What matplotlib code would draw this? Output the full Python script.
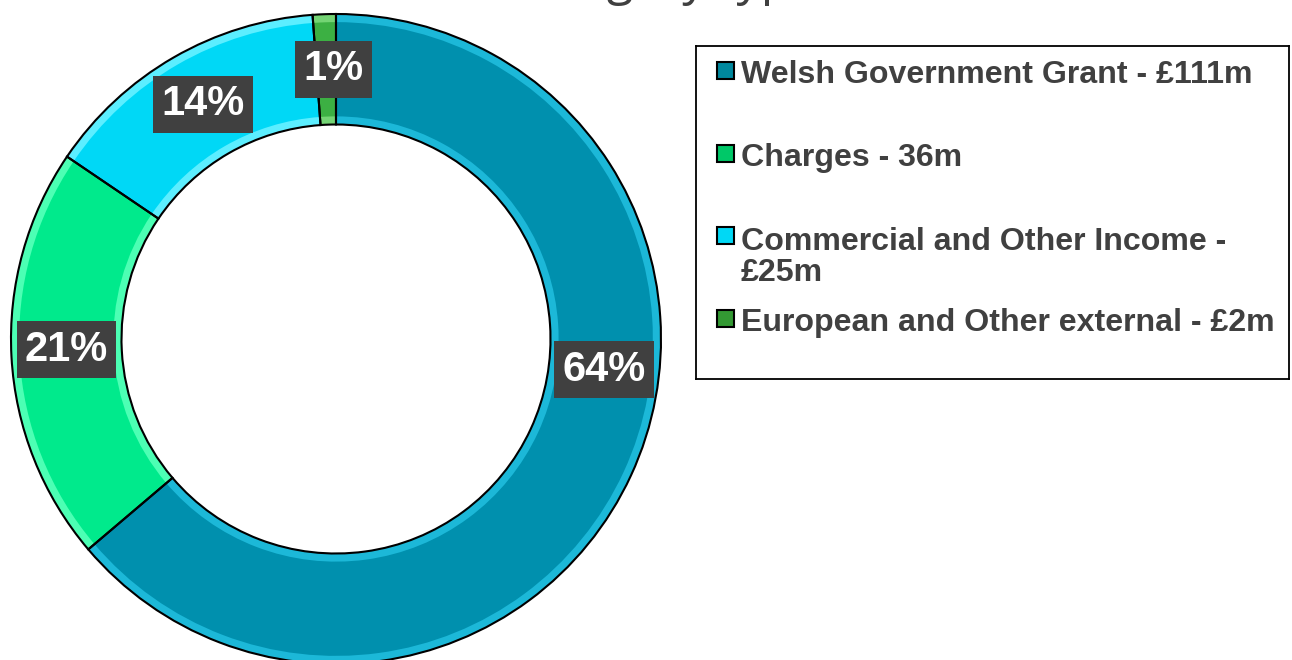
import numpy as np
import matplotlib.pyplot as plt
from matplotlib.patches import Rectangle

# income by category (GBP millions)
categories = ['Welsh Government Grant', 'Charges',
              'Commercial and Other Income', 'European and Other external']
legendLabels = ['Welsh Government Grant - £111m',
                'Charges - 36m',
                'Commercial and Other Income -\n£25m',
                'European and Other external - £2m']
values = [111, 36, 25, 2]

# colours
fillColors = ['#0090AE', '#00EA8C', '#00D8F6', '#3CB043']
rimColors = ['#1CB8D8', '#4CFFB4', '#5CEEFF', '#74D474']
keyColors = ['#00889E', '#00C868', '#00D8F5', '#339933']

# where Excel put the % labels (angle in degrees, radius as fraction)
labelAngles = [-6.5, 182.3, 119.5, 90.6]
labelRadius = 0.83

titleText = 'Income category type'

W, H = 1292, 660
fig = plt.figure(figsize=(W / 100, H / 100), dpi=100)

# title, mostly cropped off the top like the original
fig.text(331 / W, 1 + 6 / H, titleText, fontsize=35, family='Open Sans',
         color='#404040', ha='left', va='baseline')

# donut
ax = fig.add_axes([11 / W, -4 / H, 650 / W, 650 / H])
ax.pie(values, colors=rimColors, startangle=90, counterclock=False, radius=1,
       wedgeprops=dict(width=0.34, edgecolor='none'))
ax.pie(values, colors=fillColors, startangle=90, counterclock=False, radius=0.975,
       wedgeprops=dict(width=0.29, edgecolor='none'))
ax.pie(values, colors=['none'] * len(values), startangle=90, counterclock=False,
       radius=1, wedgeprops=dict(width=0.34, edgecolor='black', linewidth=1.5))
ax.set_xlim(-1, 1)
ax.set_ylim(-1, 1)
ax.set_aspect('equal')
ax.axis('off')

# percentage labels
total = sum(values)
for v, ang in zip(values, labelAngles):
    a = np.deg2rad(ang)
    ax.text(labelRadius * np.cos(a), labelRadius * np.sin(a),
            '%d%%' % round(100.0 * v / total),
            fontsize=30, family='Liberation Sans', fontweight='bold',
            color='white', ha='center', va='center',
            bbox=dict(boxstyle='square,pad=0.2', fc='#404040', ec='none'))

# legend box drawn by hand to keep Excel's uneven spacing
lax = fig.add_axes([696 / W, (H - 379) / H, 593 / W, 333 / H])
lax.set_xlim(0, 593)
lax.set_ylim(333, 0)
lax.set_xticks([])
lax.set_yticks([])
for s in lax.spines.values():
    s.set_linewidth(1.3)
    s.set_color('black')

rowCentres = [24.5, 107.5, 189.5, 272.5]
lineStep = 33  # px between wrapped lines
for lab, col, yc in zip(legendLabels, keyColors, rowCentres):
    lax.add_patch(Rectangle((21, yc - 8.5), 17, 17, facecolor=col,
                            edgecolor='black', linewidth=1.5))
    nExtra = lab.count('\n')
    # baseline alignment uses the last line, so push down for wrapped labels
    lax.text(45, yc + 12.5 + lineStep * nExtra, lab, fontsize=23.1,
             family='Liberation Sans', fontweight='bold', color='#404040',
             ha='left', va='baseline', linespacing=1.05)

fig.savefig('out.png', dpi=100)
